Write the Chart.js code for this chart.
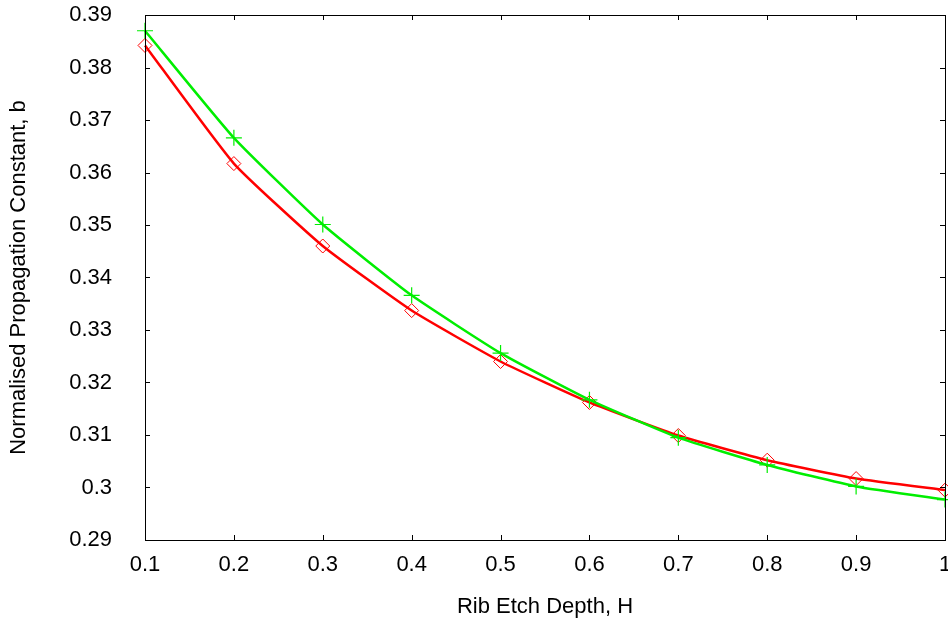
<!DOCTYPE html>
<html>
<head>
<meta charset="utf-8">
<script src="https://cdn.jsdelivr.net/npm/chart.js@4.4.0/dist/chart.umd.min.js"></script>
<style>
  html, body { margin: 0; padding: 0; background: #fff; }
  #wrap { width: 948px; height: 623px; }
</style>
</head>
<body>
<div id="wrap"><canvas id="chart"></canvas></div>
<script>
const depths = [0.1, 0.2, 0.3, 0.4, 0.5, 0.6, 0.7, 0.8, 0.9, 1.0];
const greenB = [0.3870, 0.3666, 0.3501, 0.3366, 0.3256, 0.3167, 0.3095, 0.3043, 0.3002, 0.2977];
const redB   = [0.3842, 0.3617, 0.3460, 0.3337, 0.3240, 0.3162, 0.3099, 0.3052, 0.3017, 0.2995];
const xTicks = [0.1, 0.2, 0.3, 0.4, 0.5, 0.6, 0.7, 0.8, 0.9, 1];
const yTicks = [0.29, 0.3, 0.31, 0.32, 0.33, 0.34, 0.35, 0.36, 0.37, 0.38, 0.39];

const toPoints = (ys) => ys.map((y, i) => ({ x: depths[i], y: y }));

// box around the plot area, with short ticks pointing inward on all four sides
const boxTicks = {
    id: 'boxTicks',
    afterDatasetsDraw(chart) {
        const { ctx, chartArea: a, scales } = chart;
        ctx.save();
        ctx.strokeStyle = '#000';
        ctx.lineWidth = 1;
        ctx.beginPath();
        xTicks.forEach(v => {
            const px = Math.round(scales.x.getPixelForValue(v)) + 0.5;
            ctx.moveTo(px, a.bottom); ctx.lineTo(px, a.bottom - 5);
            ctx.moveTo(px, a.top); ctx.lineTo(px, a.top + 5);
        });
        yTicks.forEach(v => {
            const py = Math.round(scales.y.getPixelForValue(v)) + 0.5;
            ctx.moveTo(a.left, py); ctx.lineTo(a.left + 5, py);
            ctx.moveTo(a.right, py); ctx.lineTo(a.right - 5, py);
        });
        ctx.stroke();
        ctx.strokeRect(Math.round(a.left) + 0.5, Math.round(a.top) + 0.5,
            Math.round(a.right - a.left), Math.round(a.bottom - a.top));
        ctx.restore();
    }
};

// keep tick labels from pushing the plot area inward
const noOverhang = (s) => { s.paddingTop = 0; s.paddingBottom = 0; s.paddingLeft = 0; s.paddingRight = 0; };

Chart.defaults.font.family = "'Liberation Sans', Arial, sans-serif";
Chart.defaults.color = '#000';

new Chart(document.getElementById('chart').getContext('2d'), {
    type: 'line',
    data: {
        datasets: [{
            data: toPoints(greenB),
            borderColor: '#00ee00',
            backgroundColor: '#00ee00',
            borderWidth: 2.5,
            pointStyle: 'cross',
            pointRadius: 8,
            pointBorderWidth: 1.2,
            pointBorderColor: '#00ee00',
            tension: 0.15,
            clip: false
        }, {
            data: toPoints(redB),
            borderColor: '#ff0000',
            backgroundColor: 'rgba(0,0,0,0)',
            borderWidth: 2.5,
            pointStyle: 'rectRot',
            pointRadius: 7,
            pointBorderWidth: 1,
            pointBorderColor: '#ff0000',
            pointBackgroundColor: 'rgba(0,0,0,0)',
            tension: 0.15,
            clip: false
        }]
    },
    options: {
        responsive: true, maintainAspectRatio: false, animation: false,
        layout: { autoPadding: false, padding: { top: 15, right: 3, left: 0, bottom: 0 } },
        plugins: { legend: { display: false }, tooltip: { enabled: false } },
        scales: {
            x: {
                type: 'linear', min: 0.1, max: 1,
                afterBuildTicks: (s) => { s.ticks = xTicks.map(v => ({ value: v })); },
                afterFit: (s) => { s.height = 83; noOverhang(s); },
                grid: { display: false, drawTicks: false },
                border: { display: false },
                ticks: { font: { size: 22 }, padding: 12, maxRotation: 0, callback: (v) => String(v) },
                title: { display: true, text: 'Rib Etch Depth, H', font: { size: 22 }, padding: { top: 0, bottom: 3 } }
            },
            y: {
                type: 'linear', min: 0.29, max: 0.39,
                afterBuildTicks: (s) => { s.ticks = yTicks.map(v => ({ value: v })); },
                afterFit: (s) => { s.width = 145; noOverhang(s); },
                grid: { display: false, drawTicks: false },
                border: { display: false },
                ticks: { font: { size: 22 }, padding: 33, callback: (v) => String(v) },
                title: { display: true, text: 'Normalised Propagation Constant, b', font: { size: 22 }, padding: { top: 6, bottom: 0 } }
            }
        }
    },
    plugins: [boxTicks]
});
</script>
</body>
</html>
